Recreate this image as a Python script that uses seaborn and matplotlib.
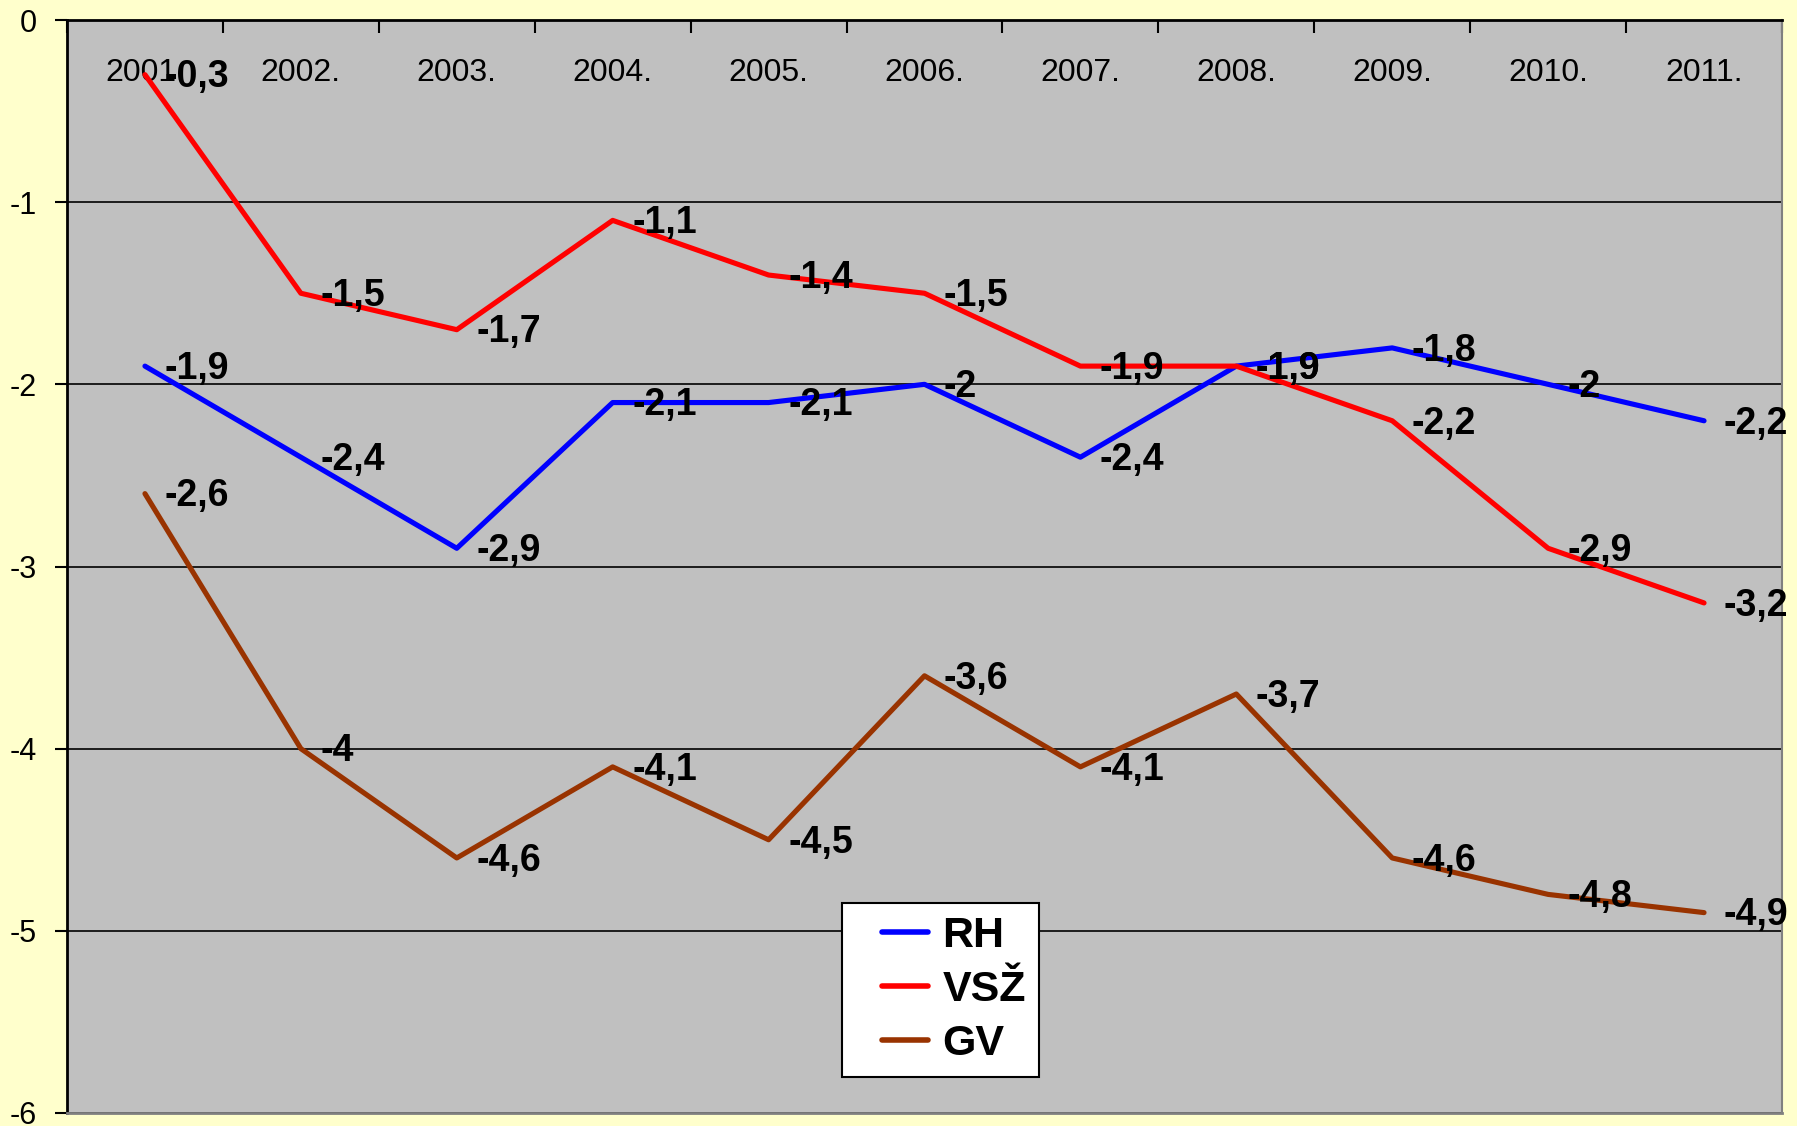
import matplotlib

matplotlib.use("Agg")
import matplotlib.pyplot as plt
import numpy as np
import pandas as pd
import seaborn as sns
from matplotlib.legend_handler import HandlerLine2D

years = ["2001.", "2002.", "2003.", "2004.", "2005.", "2006.",
         "2007.", "2008.", "2009.", "2010.", "2011."]
rh = [-1.9, -2.4, -2.9, -2.1, -2.1, -2.0, -2.4, -1.9, -1.8, -2.0, -2.2]
vsz = [-0.3, -1.5, -1.7, -1.1, -1.4, -1.5, -1.9, -1.9, -2.2, -2.9, -3.2]
gv = [-2.6, -4.0, -4.6, -4.1, -4.5, -3.6, -4.1, -3.7, -4.6, -4.8, -4.9]
series = {"RH": rh, "VSŽ": vsz, "GV": gv}
colors = {"RH": "#0000FF", "VSŽ": "#FF0000", "GV": "#993300"}
y_ticks = [0, -1, -2, -3, -4, -5, -6]


class PaddedLineHandler(HandlerLine2D):
    """Legend line that leaves some blank space before the stroke."""

    def create_artists(self, legend, orig_handle, xdescent, ydescent, width,
                       height, fontsize, trans):
        artists = super().create_artists(legend, orig_handle, xdescent, ydescent,
                                         width, height, fontsize, trans)
        line = artists[0]
        xd = line.get_xdata()
        yd = line.get_ydata()
        a, b = min(xd), max(xd)
        line.set_data([a + (b - a) * 0.37, b], [yd[0], yd[0]])
        return artists


rows = []
for name, vals in series.items():
    for i, v in enumerate(vals):
        rows.append({"idx": i, "value": v, "series": name})
df = pd.DataFrame(rows)

sns.set_style("white", {"text.color": "black", "xtick.color": "black",
                        "ytick.color": "black", "axes.labelcolor": "black"})
plt.rcParams["font.family"] = ["Liberation Sans", "DejaVu Sans"]

fig = plt.figure(figsize=(17.97, 11.26), dpi=100)
fig.patch.set_facecolor("#FFFFCC")
ax = fig.add_axes([67 / 1797, 1 - 1113 / 1126, (1782 - 67) / 1797, (1113 - 20) / 1126])
ax.set_facecolor("#C0C0C0")

sns.lineplot(data=df, x="idx", y="value", hue="series", palette=colors,
             hue_order=list(series), linewidth=3.7, ax=ax, legend=False)

# data labels with comma decimal separator
for name, vals in series.items():
    for i, v in enumerate(vals):
        txt = f"{v:g}".replace(".", ",")
        ax.annotate(txt, (i, v), xytext=(14, -2), textcoords="offset points",
                    ha="left", va="center", fontsize=27, fontweight="bold",
                    color="black")

ax.set_xlim(-0.5, 10.5)
ax.set_ylim(-6, 0)

# x axis on top, category labels drawn inside the plot area
ax.xaxis.tick_top()
ax.set_xticks(np.arange(-0.5, 11, 1))
ax.set_xticklabels([])
ax.set_xticks(range(len(years)), minor=True)
ax.set_xticklabels(years, minor=True, fontsize=23)
ax.tick_params(axis="x", which="major", direction="in", length=9, width=1.5,
               color="black", top=True, bottom=False)
ax.tick_params(axis="x", which="minor", length=0, pad=-49, top=True, bottom=False)

ax.set_yticks(y_ticks)
ax.set_yticklabels([str(t) for t in y_ticks], fontsize=22)
ax.tick_params(axis="y", direction="out", length=9, width=1.5, color="black",
               left=True, pad=13)
ax.yaxis.grid(True, color="black", linewidth=1.2)
ax.xaxis.grid(False)
ax.set_axisbelow(True)

ax.set_xlabel("")
ax.set_ylabel("")

ax.spines["top"].set_color("black")
ax.spines["left"].set_color("black")
ax.spines["top"].set_linewidth(2)
ax.spines["left"].set_linewidth(2)
ax.spines["bottom"].set_color("#808080")
ax.spines["right"].set_color("#808080")
ax.spines["bottom"].set_linewidth(2)
ax.spines["right"].set_linewidth(1.5)

handles = [plt.Line2D([], [], color=colors[n], linewidth=4) for n in series]
leg = ax.legend(handles, list(series), loc="upper left",
                bbox_to_anchor=(0.452, 0.192),
                prop={"weight": "bold", "size": 31},
                handler_map={plt.Line2D: PaddedLineHandler()},
                handlelength=1.7, handletextpad=0.33, labelspacing=0.33,
                borderpad=0.3, borderaxespad=0, fancybox=False, framealpha=1,
                facecolor="white", edgecolor="black")
leg.get_frame().set_linewidth(1.5)

fig.savefig("out.png", dpi=100, facecolor=fig.get_facecolor())
